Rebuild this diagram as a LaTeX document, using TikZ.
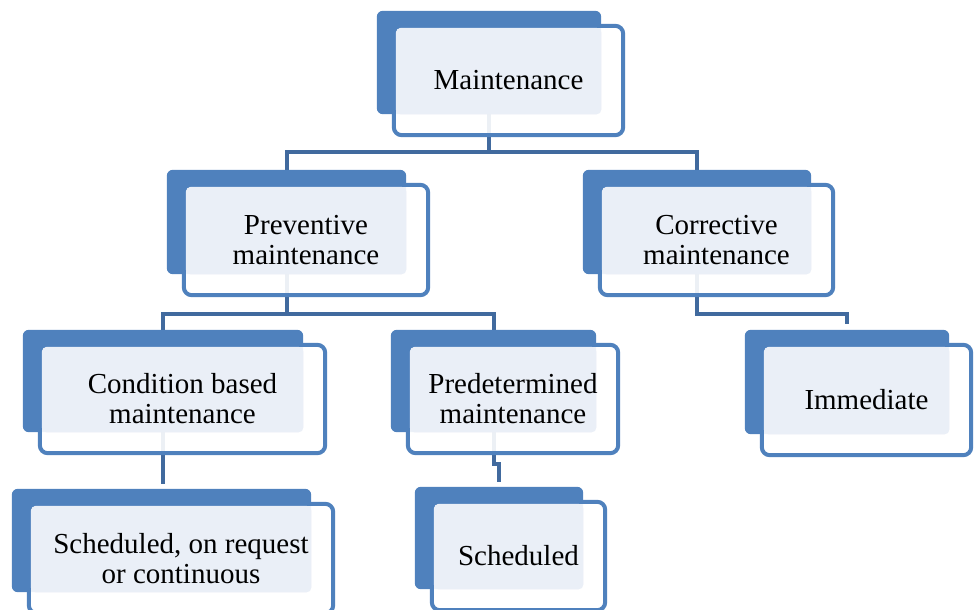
\documentclass[tikz,border=0pt]{standalone}
\usepackage{fontspec}
\setmainfont{Liberation Serif}
\usetikzlibrary{calc,fit,backgrounds}
\pgfdeclarelayer{links}
\pgfsetlayers{links,background,main}
\definecolor{box blue}{RGB}{79,129,189}
\definecolor{box light}{RGB}{234,239,247}
\definecolor{link blue}{RGB}{65,106,158}

\begin{document}
\begin{tikzpicture}[x=1pt,y=-1pt,
  item/.style={inner sep=0pt, align=center, font=\fontsize{29}{30}\selectfont},
  backbox/.style={inner sep=0pt, fill=box blue, rounded corners=6pt},
  frame/.style={draw=box blue, line width=4pt, fill=white, fill opacity=0.9, rounded corners=8pt},
  shade/.style={fill=box light, rounded corners=5pt},
  link/.style={draw=link blue, line width=4pt}]
\useasboundingbox (0,0) rectangle (974,610);

% text boxes
\node[item, minimum width=229pt, minimum height=109pt] (main) at (508.5,80.5) {Maintenance};
\node[item, minimum width=244pt, minimum height=110pt] (prev) at (306,240) {Preventive\\maintenance};
\node[item, minimum width=233pt, minimum height=110pt] (corr) at (716.5,240) {Corrective\\maintenance};
\node[item, minimum width=285pt, minimum height=108pt] (cond) at (182.5,399) {Condition based\\maintenance};
\node[item, minimum width=210pt, minimum height=108pt] (pred) at (513,399) {Predetermined\\maintenance};
\node[item, minimum width=209pt, minimum height=110pt] (imm) at (866.5,400) {Immediate};
\node[item, minimum width=304pt, minimum height=109pt] (sreq) at (181,558.5) {Scheduled, on request\\or continuous};
\node[item, minimum width=173pt, minimum height=108pt] (sched) at (518.5,556) {Scheduled};

% back boxes and frames
\begin{scope}[on background layer]
\foreach \n in {main,prev,corr,cond,pred,imm,sreq,sched}{
  \node[backbox, fit={($(\n.north west)+(-17,-15)$) ($(\n.south east)+(-22,-21)$)}] (\n-b) {};
  \path[frame] (\n.north west) rectangle (\n.south east);
  \path[shade] ($(\n.north west)+(2,2)$) rectangle (\n-b.south east);
}
\end{scope}

% connectors
\begin{pgfonlayer}{links}
\draw[link] (main-b.south) -- ++(0,38) -| (prev-b.north);
\draw[link] (main-b.south) -- ++(0,38) -| (corr-b.north);
\draw[link] (prev-b.south) -- ++(0,40) -| (cond-b.north);
\draw[link] (prev-b.south) -- ++(0,40) -| (pred-b.north);
\draw[link, shorten >=5pt] (cond-b.south) -- (cond-b.south |- sreq-b.north);
\draw[link, shorten >=5pt] (pred-b.south) -- ++(0,32) -| (sched-b.north);
\draw[link, shorten >=6pt] (corr-b.south) -- ++(0,40) -| (imm-b.north);
\end{pgfonlayer}
\end{tikzpicture}
\end{document}
